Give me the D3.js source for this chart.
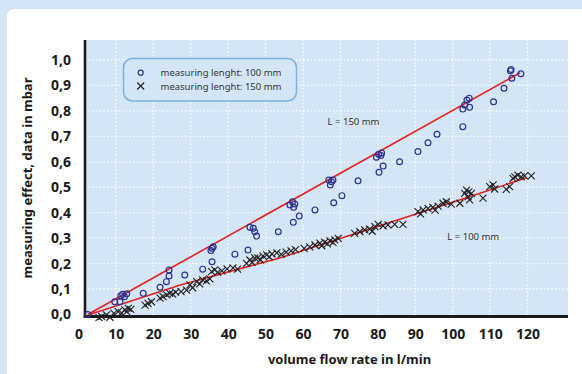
<!DOCTYPE html>
<html>
<head>
<meta charset="utf-8">
<script src="https://cdn.jsdelivr.net/npm/d3@7"></script>
<style>
  body { margin: 0; background: #d4e6f6; }
  svg { display: block; }
</style>
</head>
<body>
<div id="chart"></div>
<script>
// measured points, 100 mm (circles)
var seriesA = [
  [2.5,0],[9.7,0.050],[11.1,0.050],[11.3,0.074],[11.8,0.079],[12.3,0.070],[12.9,0.081],
  [17.3,0.083],[21.8,0.107],[23.5,0.129],[24.2,0.151],[24.2,0.175],[28.4,0.155],[33.2,0.178],
  [35.7,0.207],[35.4,0.251],[35.7,0.260],[36.0,0.266],[41.8,0.237],[45.3,0.253],[45.8,0.343],
  [46.7,0.339],[47.1,0.325],[47.6,0.308],[53.4,0.325],[56.5,0.430],[57.2,0.443],[57.8,0.434],
  [57.5,0.421],[59.0,0.387],[57.4,0.362],[63.2,0.411],[68.2,0.439],[70.4,0.467],[66.9,0.528],
  [67.6,0.522],[67.3,0.509],[68.0,0.528],[74.7,0.525],[79.6,0.618],[80.3,0.559],[80.2,0.630],
  [80.8,0.625],[81.0,0.635],[81.4,0.583],[85.8,0.600],[90.7,0.640],[93.4,0.675],[95.8,0.708],
  [102.7,0.738],[102.7,0.807],[103.2,0.823],[103.8,0.843],[104.4,0.850],[104.5,0.814],
  [110.9,0.836],[113.7,0.889],[115.4,0.958],[115.6,0.963],[115.8,0.928],[118.2,0.946]
];

// measured points, 150 mm (crosses)
var seriesB = [
  [5.5,-0.012],[6.2,-0.008],[7.5,-0.002],[8.4,-0.011],[9.5,0.004],[10.6,0.011],[11.5,0.006],
  [12.4,0.018],[12.9,0.011],[13.3,0.024],[14.0,0.020],[17.8,0.037],[18.6,0.044],[19.5,0.050],
  [21.8,0.064],[22.6,0.070],[23.6,0.077],[24.4,0.083],[25.2,0.080],[26.0,0.088],[27.4,0.090],
  [28.9,0.096],[29.8,0.116],[30.5,0.105],[31.6,0.129],[32.4,0.120],[33.2,0.136],[34.2,0.132],
  [35.1,0.140],[35.6,0.168],[36.4,0.175],[37.2,0.165],[38.3,0.171],[39.7,0.179],[41.3,0.183],
  [42.5,0.178],[44.9,0.201],[45.8,0.214],[46.4,0.205],[47.1,0.222],[47.9,0.222],[48.6,0.215],
  [49.3,0.230],[50.3,0.234],[51.0,0.226],[51.7,0.238],[53.0,0.242],[54.2,0.236],[55.5,0.245],
  [56.8,0.250],[58.0,0.255],[60.3,0.260],[61.8,0.266],[63.2,0.273],[64.5,0.280],[65.0,0.270],
  [65.8,0.284],[66.5,0.277],[67.2,0.289],[68.0,0.283],[68.5,0.293],[69.4,0.299],[73.8,0.319],
  [75.2,0.325],[76.5,0.332],[77.8,0.335],[78.5,0.327],[79.2,0.345],[80.1,0.354],[81.4,0.348],
  [82.7,0.352],[84.5,0.354],[86.7,0.354],[90.7,0.404],[91.4,0.395],[92.1,0.411],[93.4,0.417],
  [94.7,0.421],[95.3,0.410],[96.1,0.426],[97.4,0.437],[98.3,0.443],[99.6,0.434],[101.9,0.437],
  [103.2,0.476],[103.7,0.489],[104.1,0.463],[104.5,0.450],[105.0,0.476],[104.3,0.482],
  [108.1,0.457],[109.9,0.502],[110.8,0.509],[111.2,0.493],[114.3,0.492],[115.2,0.502],
  [116.1,0.535],[116.6,0.541],[117.4,0.548],[118.3,0.541],[119.2,0.545],[121.0,0.545]
];

// trend lines (red)
var trendUpper = [[2.5,0],[118,0.95]];
var trendLower = [[3,0],[27,0.115],[54,0.223],[104.5,0.463],[119.7,0.537]];

var xTicks = [0,10,20,30,40,50,60,70,80,90,100,110,120];
var yTicks = [0,0.1,0.2,0.3,0.4,0.5,0.6,0.7,0.8,0.9,1.0];
var legendLabels = ["measuring lenght: 100 mm", "measuring lenght: 150 mm"];
var notes = [{text: "L = 150 mm", x: 73.5, y: 0.745}, {text: "L = 100 mm", x: 105.5, y: 0.292}];

var W = 582, H = 374;
var plotL = 85, plotR = 568, plotT = 40, plotB = 316.5;

var svg = d3.select("#chart").append("svg")
  .attr("width", W).attr("height", H);

svg.append("rect").attr("width", W).attr("height", H).attr("fill", "#d4e6f6");
svg.append("rect")
  .attr("x", 7).attr("y", 9).attr("width", W).attr("height", H)
  .attr("rx", 7).attr("fill", "#ffffff");

var x = d3.scaleLinear().domain([1.75, 130.8]).range([plotL, plotR]);
var y = d3.scaleLinear().domain([-0.008, 1.0786]).range([plotB, plotT]);

svg.append("rect")
  .attr("x", plotL).attr("y", plotT)
  .attr("width", plotR - plotL).attr("height", plotB - plotT)
  .attr("fill", "#d4e6f6");

// grid
var grid = svg.append("g")
  .attr("stroke", "#ffffff").attr("stroke-width", 1.3)
  .attr("stroke-dasharray", "1.3,2.4");
grid.selectAll("line.v").data(xTicks.filter(function(d) { return d > 0; }))
  .enter().append("line")
  .attr("x1", function(d) { return x(d); }).attr("x2", function(d) { return x(d); })
  .attr("y1", plotT).attr("y2", plotB);
grid.selectAll("line.h").data(yTicks.filter(function(d) { return d > 0; }))
  .enter().append("line")
  .attr("x1", plotL).attr("x2", plotR)
  .attr("y1", function(d) { return y(d); }).attr("y2", function(d) { return y(d); });

// axes
var xAxis = svg.append("g")
  .attr("transform", "translate(0," + plotB + ")")
  .call(d3.axisBottom(x).tickValues(xTicks).tickSize(0).tickPadding(13));
xAxis.select(".domain").remove();
xAxis.selectAll("text")
  .style("font-family", "'Noto Sans', sans-serif")
  .style("font-size", "14px").style("font-weight", "700").style("fill", "#1a1a1a");

var yAxis = svg.append("g")
  .attr("transform", "translate(" + plotL + ",0)")
  .call(d3.axisLeft(y).tickValues(yTicks).tickSize(0).tickPadding(14)
    .tickFormat(function(d) { return d3.format(".1f")(d).replace(".", ","); }));
yAxis.select(".domain").remove();
yAxis.selectAll("text")
  .style("font-family", "'Noto Sans', sans-serif")
  .style("font-size", "14px").style("font-weight", "700").style("fill", "#1a1a1a");

svg.append("line")
  .attr("x1", plotL).attr("x2", plotL).attr("y1", plotT).attr("y2", plotB + 1.5)
  .attr("stroke", "#1a1a1a").attr("stroke-width", 2.6);
svg.append("line")
  .attr("x1", plotL - 1.3).attr("x2", plotR).attr("y1", plotB).attr("y2", plotB)
  .attr("stroke", "#1a1a1a").attr("stroke-width", 2.8);

// axis titles
svg.append("text")
  .attr("x", (plotL + plotR) / 2 + 23).attr("y", 364)
  .attr("text-anchor", "middle")
  .style("font-family", "'Noto Sans', sans-serif")
  .style("font-size", "13px").style("font-weight", "700").style("fill", "#1a1a1a")
  .text("volume flow rate in l/min");

svg.append("text")
  .attr("transform", "translate(32,178) rotate(-90)")
  .attr("text-anchor", "middle")
  .style("font-family", "'Noto Sans', sans-serif")
  .style("font-size", "13px").style("font-weight", "700").style("fill", "#1a1a1a")
  .text("measuring effect, data in mbar");

// legend
svg.append("rect")
  .attr("x", 123.5).attr("y", 58.5).attr("width", 173).attr("height", 42.5)
  .attr("rx", 9).attr("fill", "#d4e6f6")
  .attr("stroke", "#80b1e2").attr("stroke-width", 1.5);

var line = d3.line()
  .x(function(d) { return x(d[0]); })
  .y(function(d) { return y(d[1]); });

[trendUpper, trendLower].forEach(function(t) {
  svg.append("path").datum(t)
    .attr("d", line).attr("fill", "none")
    .attr("stroke", "#e3201f").attr("stroke-width", 1.6);
});

var cross = function(sel, cx, cy) {
  var s = 3.5;
  sel.append("path")
    .attr("d", "M" + (cx - s) + "," + (cy - s) + "L" + (cx + s) + "," + (cy + s) +
               "M" + (cx - s) + "," + (cy + s) + "L" + (cx + s) + "," + (cy - s))
    .attr("stroke", "#231f20").attr("stroke-width", 1.1).attr("fill", "none");
};

var crosses = svg.append("g");
seriesB.forEach(function(d) { cross(crosses, x(d[0]), y(d[1])); });

svg.append("g").selectAll("circle")
  .data(seriesA).enter().append("circle")
  .attr("cx", function(d) { return x(d[0]); })
  .attr("cy", function(d) { return y(d[1]); })
  .attr("r", 2.9)
  .attr("fill", "none").attr("stroke", "#2e3192").attr("stroke-width", 1.2);

// legend entries
svg.append("circle").attr("cx", 140.7).attr("cy", 72.7).attr("r", 2.5)
  .attr("fill", "none").attr("stroke", "#2e3192").attr("stroke-width", 1.2);
cross(svg, 140.7, 86);
svg.selectAll("text.leg").data(legendLabels).enter().append("text")
  .attr("x", 160.5).attr("y", function(d, i) { return 76 + i * 13.5; })
  .style("font-family", "'Noto Sans', sans-serif")
  .style("font-size", "9.5px").style("fill", "#333333")
  .text(function(d) { return d; });

// annotations
svg.selectAll("text.note").data(notes).enter().append("text")
  .attr("x", function(d) { return x(d.x); })
  .attr("y", function(d) { return y(d.y); })
  .attr("text-anchor", "middle")
  .style("font-family", "'Noto Sans', sans-serif")
  .style("font-size", "9.5px").style("fill", "#333333")
  .text(function(d) { return d.text; });
</script>
</body>
</html>
